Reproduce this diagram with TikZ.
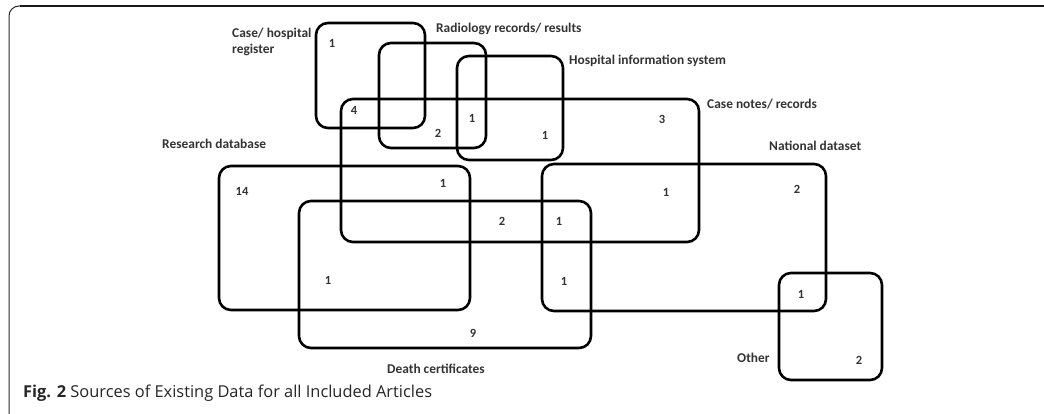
\documentclass[tikz,border=0pt]{standalone}
\usepackage{fontspec}
\setmainfont{Carlito}
\newfontfamily\capfont{Open Sans}
\usepackage{tikz}

\begin{document}
\begin{tikzpicture}[x=1pt,y=-1pt]
    \tikzset{
      sourcebox/.style={rectangle,rounded corners=12pt,draw=black,line width=2.6pt,inner sep=0pt},
      sourcelabel/.style={anchor=west,inner sep=0pt,font=\fontsize{13.4}{16}\selectfont\bfseries,text=black!80,align=left},
      countlabel/.style={inner sep=0pt,font=\fontsize{12.5}{14}\selectfont\bfseries,text=black!80}
    }
    \useasboundingbox (0,0) rectangle (1044,414);
    \draw[line width=1pt,rounded corners=10pt,black!85](9,414) -- (9,6) -- (1044,6);
    \draw[line width=2pt,black!90](20,6) -- (1044,6);

    % sets
    \node[sourcebox,minimum width=109pt,minimum height=105pt] (register) at (370.5,75.5){};
    \node[sourcebox,minimum width=107pt,minimum height=105pt] (radiology) at (432.5,95.5){};
    \node[sourcebox,minimum width=106pt,minimum height=104pt] (his) at (510,108){};
    \node[sourcebox,minimum width=358pt,minimum height=143pt] (casenotes) at (520,170.5){};
    \node[sourcebox,minimum width=251pt,minimum height=144pt] (research) at (344.5,238){};
    \node[sourcebox,minimum width=292pt,minimum height=147pt] (death) at (445,274.5){};
    \node[sourcebox,minimum width=284pt,minimum height=147pt] (national) at (684,237.5){};
    \node[sourcebox,minimum width=103pt,minimum height=107pt] (other) at (830.5,326.5){};

    % names of the sets
    \node[sourcelabel] (registerlbl) at (232,41.5){Case/ hospital\\register};
    \node[sourcelabel] (radiologylbl) at (436,29){Radiology records/ results};
    \node[sourcelabel] (hislbl) at (569,61){Hospital information system};
    \node[sourcelabel] (casenoteslbl) at (707,104){Case notes/ records};
    \node[sourcelabel] (nationallbl) at (769,146){National dataset};
    \node[sourcelabel] (researchlbl) at (162,144){Research database};
    \node[sourcelabel] (deathlbl) at (387,369){Death certificates};
    \node[sourcelabel] (otherlbl) at (737,358){Other};

    % counts
    \node[countlabel] (n1) at (332,43){1};
    \node[countlabel] (n2) at (354,110){4};
    \node[countlabel] (n3) at (438,133){2};
    \node[countlabel] (n4) at (472,118){1};
    \node[countlabel] (n5) at (545,135){1};
    \node[countlabel] (n6) at (662,119){3};
    \node[countlabel] (n7) at (242,191){14};
    \node[countlabel] (n8) at (443,183){1};
    \node[countlabel] (n9) at (666,192){1};
    \node[countlabel] (n10) at (797,189){2};
    \node[countlabel] (n11) at (502,221){2};
    \node[countlabel] (n12) at (559,221){1};
    \node[countlabel] (n13) at (328,280){1};
    \node[countlabel] (n14) at (564,281){1};
    \node[countlabel] (n15) at (473,333){9};
    \node[countlabel] (n16) at (801,294){1};
    \node[countlabel] (n17) at (859,360){2};

    \node[anchor=west,inner sep=0pt,font=\capfont\fontsize{16.4}{18}\selectfont,text=black!85] (caption) at (23,393){{\bfseries Fig. 2} Sources of Existing Data for all Included Articles};
  \end{tikzpicture}
\end{document}
